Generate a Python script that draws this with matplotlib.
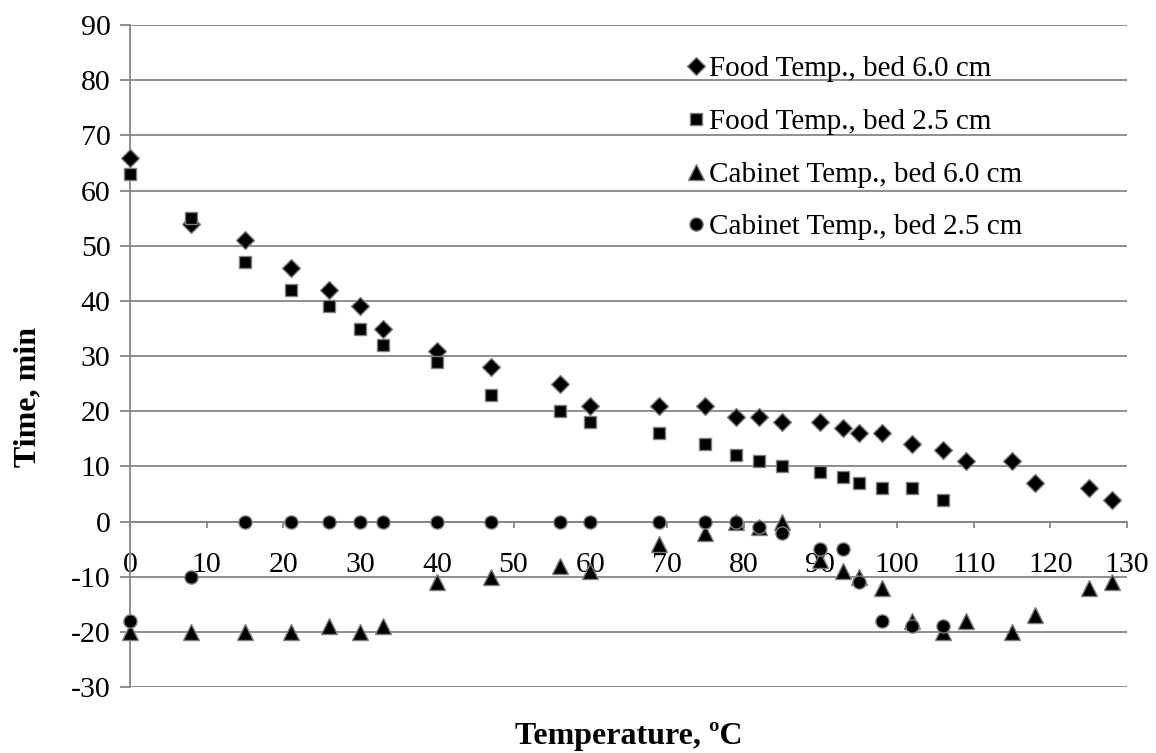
import numpy as np
import matplotlib
matplotlib.use("Agg")
import matplotlib.pyplot as plt

plt.rcParams['font.family'] = ['Liberation Serif', 'DejaVu Serif']
plt.rcParams['axes.unicode_minus'] = False

# food temperature, bed 6.0 cm
food60_x = [0, 8, 15, 21, 26, 30, 33, 40, 47, 56, 60, 69, 75, 79, 82, 85, 90, 93, 95, 98, 102, 106, 109, 115, 118, 125, 128]
food60_y = [66, 54, 51, 46, 42, 39, 35, 31, 28, 25, 21, 21, 21, 19, 19, 18, 18, 17, 16, 16, 14, 13, 11, 11, 7, 6, 4]

# food temperature, bed 2.5 cm
food25_x = [0, 8, 15, 21, 26, 30, 33, 40, 47, 56, 60, 69, 75, 79, 82, 85, 90, 93, 95, 98, 102, 106]
food25_y = [63, 55, 47, 42, 39, 35, 32, 29, 23, 20, 18, 16, 14, 12, 11, 10, 9, 8, 7, 6, 6, 4]

# cabinet temperature, bed 6.0 cm
cab60_x = [0, 8, 15, 21, 26, 30, 33, 40, 47, 56, 60, 69, 75, 79, 82, 85, 90, 93, 95, 98, 102, 106, 109, 115, 118, 125, 128]
cab60_y = [-20, -20, -20, -20, -19, -20, -19, -11, -10, -8, -9, -4, -2, 0, -1, 0, -7, -9, -10, -12, -18, -20, -18, -20, -17, -12, -11]

# cabinet temperature, bed 2.5 cm
cab25_x = [0, 8, 15, 21, 26, 30, 33, 40, 47, 56, 60, 69, 75, 79, 82, 85, 90, 93, 95, 98, 102, 106]
cab25_y = [-18, -10, 0, 0, 0, 0, 0, 0, 0, 0, 0, 0, 0, 0, -1, -2, -5, -5, -11, -18, -19, -19]

labels = ["Food Temp., bed 6.0 cm", "Food Temp., bed 2.5 cm",
          "Cabinet Temp., bed 6.0 cm", "Cabinet Temp., bed 2.5 cm"]

grey = '#868686'
edge = '#7f7f7f'

fig = plt.figure(figsize=(11.56, 7.53), dpi=100)
ax = fig.add_axes([0.1125, 0.0876, 0.8625, 0.879])

kw = dict(mfc='black', mec=edge, mew=1.0, zorder=3, clip_on=False, ls='none')
ax.plot(food60_x, food60_y, 'D', ms=9, label=labels[0], **kw)
ax.plot(food25_x, food25_y, 's', ms=8, label=labels[1], **kw)
ax.plot(cab60_x, cab60_y, '^', ms=12, label=labels[2], **kw)
ax.plot(cab25_x, cab25_y, 'o', ms=9.5, label=labels[3], **kw)

ax.set_xlim(0, 130)
ax.set_ylim(-30, 90)
ax.set_xticks(np.arange(0, 131, 10))
ax.set_yticks(np.arange(-30, 91, 10))

ax.yaxis.grid(True, color=grey, lw=1.3)
ax.set_axisbelow(True)

for s in ['top', 'right']:
    ax.spines[s].set_visible(False)
ax.spines['bottom'].set_position(('data', 0))
ax.spines['bottom'].set_color(grey)
ax.spines['bottom'].set_linewidth(1.3)
ax.spines['left'].set_color(grey)
ax.spines['left'].set_linewidth(1.3)

ax.tick_params(axis='y', direction='out', length=7, width=1.3, color=grey, labelsize=21.5, pad=7)
ax.tick_params(axis='x', direction='out', length=4, width=1.3, color=grey, labelsize=21.5, pad=18)

fig.text(0.024, 0.4725, "Time, min", fontsize=23, fontweight='bold', rotation=90, ha='center', va='center')
fig.text(0.5435, 0.003, "Temperature, ºC", fontsize=23, fontweight='bold', ha='center', va='bottom')

leg = ax.legend(loc='upper left', bbox_to_anchor=(0.546, 0.971), frameon=False,
                fontsize=21, handlelength=0.7, handletextpad=0.1, labelspacing=0.9,
                borderaxespad=0, numpoints=1)

fig.savefig("out.png", dpi=100)
